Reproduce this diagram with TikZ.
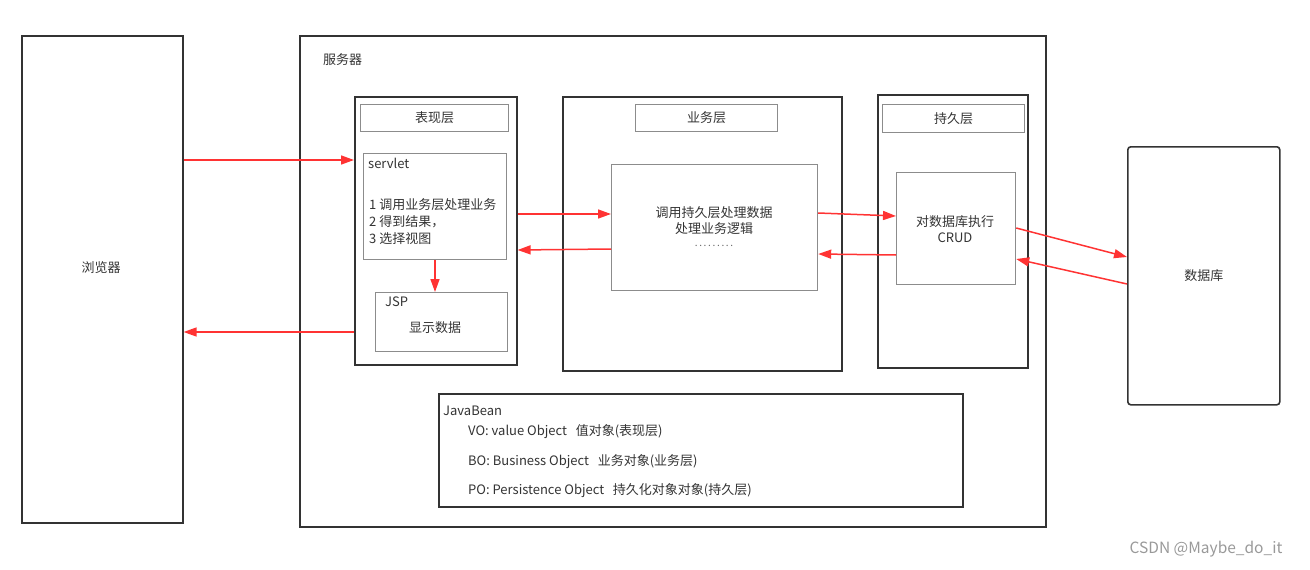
\documentclass[tikz,border=0pt]{standalone}
\usepackage{fontspec}
\setmainfont{Noto Sans CJK SC}
\usetikzlibrary{arrows.meta, positioning}

\begin{document}
\begin{tikzpicture}[x=1pt, y=-1pt,
    font=\fontsize{13}{17}\selectfont,
    box/.style={draw=black!80, line width=1.6pt, anchor=north west, inner sep=0pt, text=black!80},
    sub/.style={draw=black!45, line width=1.2pt, anchor=north west, inner sep=0pt, text=black!80},
    lbl/.style={text=black!80, inner sep=0pt},
    flow/.style={draw=red!80, line width=1.5pt, -{Triangle[length=13pt,width=9pt]}}]
    \useasboundingbox (0,0) rectangle (1310,570);
    % browser and server
    \node[box, minimum width=161, minimum height=487] (browser) at (21,35) {};
    \node[lbl] (brname) at (101,268) {浏览器};
    \node[box, minimum width=746, minimum height=491] (server) at (299,35) {};
    \node[lbl, anchor=west] (srvname) at (323,60) {服务器};
    % presentation layer
    \node[box, minimum width=162, minimum height=268] (pres) at (354,96) {};
    \node[sub, minimum width=148, minimum height=27] (prestitle) at (360,104) {表现层};
    \node[sub, minimum width=143, minimum height=106] (servlet) at (363,153) {};
    \node[lbl, anchor=north west] (servletname) at ([shift={(5,5)}]servlet.north west) {servlet};
    \node[lbl, anchor=north west, align=left] (servlettxt) at (369,198) {1 调用业务层处理业务\\2 得到结果，\\3 选择视图};
    \node[sub, minimum width=132, minimum height=59] (jsp) at (375,292) {};
    \node[lbl, anchor=north west] (jspname) at ([shift={(10,5)}]jsp.north west) {JSP};
    \node[lbl] (jsptxt) at (435,328) {显示数据};
    % business layer
    \node[box, minimum width=279, minimum height=274] (biz) at (562,96) {};
    \node[sub, minimum width=142, minimum height=27] (biztitle) at (635,104) {业务层};
    \node[sub, minimum width=206, minimum height=126] (bizin) at (611,164) {};
    \node[lbl, align=center] (biztxt) at (714,221) {调用持久层处理数据\\[-1pt]处理业务逻辑};
    \node[lbl, text=black!60, font=\fontsize{10}{12}\selectfont] (bizdots) at (714,246) {.\,.\,.\,.\,.\,.\,.\,.\,.};
    % persistence layer
    \node[box, minimum width=150, minimum height=273] (pers) at (877,94) {};
    \node[sub, minimum width=142, minimum height=28] (perstitle) at (882,104) {持久层};
    \node[sub, minimum width=119, minimum height=112] (persin) at (896,172) {};
    \node[lbl, align=center] (perstxt) at (955,229) {对数据库执行\\[-1pt]CRUD};
    % database
    \node[box, rounded corners=3pt, minimum width=152, minimum height=258] (db) at (1127,146) {数据库};
    % javabean
    \node[box, minimum width=524, minimum height=113] (bean) at (438,393) {};
    \node[lbl, anchor=west] (beanname) at (443,411) {JavaBean};
    \node[lbl, anchor=west] (vo) at (468,432) {VO: value Object\ \ \ 值对象(表现层)};
    \node[lbl, anchor=west] (bo) at (468,462) {BO: Business Object\ \ \ 业务对象(业务层)};
    \node[lbl, anchor=west] (po) at (468,491) {PO: Persistence Object\ \ \ 持久化对象对象(持久层)};
    \node[text=black!40, font=\fontsize{15.5}{18}\selectfont] (mark) at (1206,549) {CSDN @Maybe\_do\_it};
    % arrows
    \draw[flow] (browser.east |- 0,160) -- (pres.west |- 0,160);
    \draw[flow] (pres.west |- 0,332) -- (browser.east |- 0,332);
    \draw[flow] (servlet.south -| 435,0) -- (jsp.north -| 435,0);
    \draw[flow] (pres.east |- 0,214) -- (bizin.west |- 0,214);
    \draw[flow] (bizin.west |- 0,249) -- (pres.east |- 0,250);
    \draw[flow] (bizin.east |- 0,213) -- (persin.west |- 0,216);
    \draw[flow] (persin.west |- 0,255) -- (bizin.east |- 0,254);
    \draw[flow] (persin.east |- 0,228) -- (db.west |- 0,257);
    \draw[flow] (db.west |- 0,284) -- (persin.east |- 0,259);
\end{tikzpicture}
\end{document}
